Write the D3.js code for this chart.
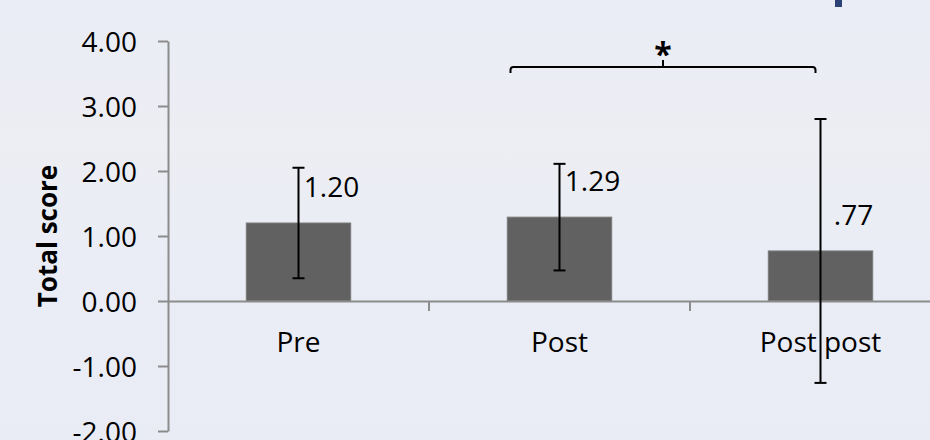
<!DOCTYPE html>
<html lang="en">
<head>
    <meta charset="UTF-8">
    <title>Total score</title>
    <script src="https://d3js.org/d3.v7.min.js"></script>
    <style>
        body {
            margin: 0;
            overflow: hidden;
        }
        svg text {
            font-family: "Open Sans", Arial, sans-serif;
            fill: #000;
        }
    </style>
</head>
<body>
    <script>
        // chart values
        const categories = ["Pre", "Post", "Post post"];
        const means = [1.20, 1.29, 0.77];
        const errors = [0.85, 0.82, 2.03];
        const valueLabels = ["1.20", "1.29", ".77"];
        const yTicks = [4, 3, 2, 1, 0, -1, -2];
        const bracketPair = ["Post", "Post post"];
        const bracketLevel = 3.6;
        const bracketMark = "*";

        const w = 930;
        const h = 440;

        const svg = d3.select("body")
            .append("svg")
            .attr("width", w)
            .attr("height", h);

        // background
        const grad = svg.append("defs").append("linearGradient")
            .attr("id", "bg")
            .attr("x1", 0).attr("y1", 0).attr("x2", 0).attr("y2", 1);
        grad.append("stop").attr("offset", "0%").attr("stop-color", "#eaedf6");
        grad.append("stop").attr("offset", "22%").attr("stop-color", "#ecedf4");
        grad.append("stop").attr("offset", "30%").attr("stop-color", "#edeef3");
        grad.append("stop").attr("offset", "55%").attr("stop-color", "#eaedf5");
        grad.append("stop").attr("offset", "100%").attr("stop-color", "#e9ecf5");
        svg.append("rect").attr("width", w).attr("height", h).attr("fill", "url(#bg)");

        // small fragment of a slide element at top
        svg.append("rect").attr("x", 835).attr("y", 0).attr("width", 7).attr("height", 7).attr("fill", "#2c4274");

        // scales
        const x = d3.scaleBand()
            .domain(categories)
            .range([168, 951])
            .padding(0);

        const y = d3.scaleLinear()
            .domain([-2, 4])
            .range([431, 41]);

        const barW = x.bandwidth() * 0.4;
        const cx = c => x(c) + x.bandwidth() / 2;

        // bars
        svg.selectAll(".bar")
            .data(categories)
            .enter()
            .append("rect")
            .attr("class", "bar")
            .attr("x", c => cx(c) - barW / 2)
            .attr("y", (c, i) => y(means[i]))
            .attr("width", barW)
            .attr("height", (c, i) => y(0) - y(means[i]))
            .attr("fill", "#616161")
            .attr("stroke", "#7a7a7a")
            .attr("stroke-width", 1);

        // y axis
        const yAxis = d3.axisLeft(y)
            .tickValues(yTicks)
            .tickFormat(d => d.toFixed(2))
            .tickSize(10)
            .tickSizeOuter(0)
            .tickPadding(21);

        const gy = svg.append("g")
            .attr("transform", "translate(168,0)")
            .call(yAxis);
        gy.selectAll("path, line").attr("stroke", "#8c8c8c").attr("stroke-width", 2);
        gy.selectAll("text")
            .attr("font-size", 28)
            .attr("dy", 10)
            .attr("fill", "#000");

        // x axis
        const xAxis = d3.axisBottom(x)
            .tickSize(0)
            .tickSizeOuter(0)
            .tickPadding(31);

        const gx = svg.append("g")
            .attr("transform", `translate(0,${y(0)})`)
            .call(xAxis);
        gx.select(".domain").attr("stroke", "#8c8c8c").attr("stroke-width", 2);
        gx.selectAll("text")
            .attr("font-size", 28)
            .attr("fill", "#000");

        // category separators
        svg.selectAll(".sep")
            .data(categories.slice(1))
            .enter()
            .append("line")
            .attr("x1", c => x(c))
            .attr("x2", c => x(c))
            .attr("y1", y(0))
            .attr("y2", y(0) + 10)
            .attr("stroke", "#8c8c8c")
            .attr("stroke-width", 2);

        // error bars
        const eb = svg.selectAll(".err")
            .data(categories)
            .enter()
            .append("g")
            .attr("class", "err");
        eb.append("line")
            .attr("x1", c => cx(c)).attr("x2", c => cx(c))
            .attr("y1", (c, i) => y(means[i] + errors[i]))
            .attr("y2", (c, i) => y(means[i] - errors[i]));
        eb.append("line")
            .attr("x1", c => cx(c) - 6).attr("x2", c => cx(c) + 6)
            .attr("y1", (c, i) => y(means[i] + errors[i]))
            .attr("y2", (c, i) => y(means[i] + errors[i]));
        eb.append("line")
            .attr("x1", c => cx(c) - 6).attr("x2", c => cx(c) + 6)
            .attr("y1", (c, i) => y(means[i] - errors[i]))
            .attr("y2", (c, i) => y(means[i] - errors[i]));
        eb.selectAll("line").attr("stroke", "#000").attr("stroke-width", 2);

        // value labels
        svg.selectAll(".val")
            .data(categories)
            .enter()
            .append("text")
            .attr("class", "val")
            .attr("x", c => cx(c) + 33)
            .attr("y", (c, i) => y(means[i]) - 26)
            .attr("text-anchor", "middle")
            .attr("font-size", 28)
            .text((c, i) => valueLabels[i]);

        // y title
        svg.append("text")
            .attr("transform", "translate(57,236) rotate(-90)")
            .attr("text-anchor", "middle")
            .attr("font-size", 26)
            .attr("font-weight", "bold")
            .text("Total score");

        // significance bracket
        const bx1 = cx(bracketPair[0]) - 49;
        const bx2 = cx(bracketPair[1]) - 5;
        const by = y(bracketLevel);
        const bmid = (bx1 + bx2) / 2;
        svg.append("path")
            .attr("d", `M${bx1},${by + 6} L${bx1},${by + 3} Q${bx1},${by} ${bx1 + 3},${by}
                L${bx2 - 3},${by} Q${bx2},${by} ${bx2},${by + 3} L${bx2},${by + 6}
                M${bmid},${by} L${bmid},${by - 7}`)
            .attr("fill", "none")
            .attr("stroke", "#000")
            .attr("stroke-width", 2);
        svg.append("text")
            .attr("x", bmid)
            .attr("y", by - 1)
            .attr("text-anchor", "middle")
            .attr("font-size", 32)
            .attr("font-weight", "bold")
            .text(bracketMark);
    </script>
</body>
</html>
